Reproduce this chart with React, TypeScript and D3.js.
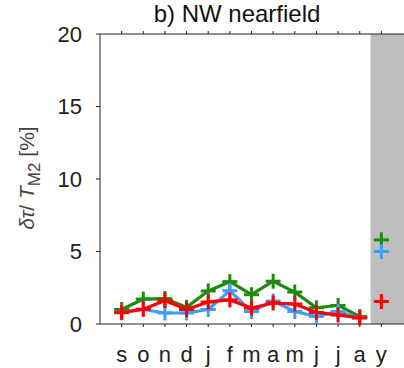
import React from "react";
import * as d3 from "d3";

const months = ["s", "o", "n", "d", "j", "f", "m", "a", "m", "j", "j", "a"];
const greenVals = [1.0, 1.72, 1.75, 1.15, 2.28, 2.92, 2.02, 2.95, 2.2, 1.12, 1.28, 0.52];
const blueVals = [0.82, 1.0, 0.76, 0.76, 1.0, 2.3, 0.86, 1.58, 0.86, 0.52, 0.86, 0.42];
const redVals = [0.78, 1.02, 1.62, 1.0, 1.52, 1.66, 1.1, 1.45, 1.38, 0.8, 0.62, 0.42];
const annualLabel = "y";
const annualGreen = 5.8;
const annualBlue = 5.0;
const annualRed = 1.55;
const yTicks = [0, 5, 10, 15, 20];

const W = 404, H = 368;
const left = 100, right = 403, top = 34, bottom = 324;

export default function App() {
  const x = d3.scaleLinear().domain([-1, 13]).range([left, right]);
  const y = d3.scaleLinear().domain([0, 20]).range([bottom, top]);
  const line = d3.line<number>().x((_, i) => x(i)).y((v) => y(v));
  const labels = [...months, annualLabel];
  const series = [
    { vals: greenVals, annual: annualGreen, color: "#1f8a0f" },
    { vals: blueVals, annual: annualBlue, color: "#3d9cff" },
    { vals: redVals, annual: annualRed, color: "#ff0000" },
  ];
  const ms = 7.5;
  const plus = (cx: number, cy: number, color: string, key: string) => (
    <g key={key} stroke={color} strokeWidth={3}>
      <line x1={cx - ms} x2={cx + ms} y1={cy} y2={cy} />
      <line x1={cx} x2={cx} y1={cy - ms} y2={cy + ms} />
    </g>
  );
  return (
    <svg width={W} height={H} style={{ display: "block", position: "absolute", left: 0, top: 0 }}
      fontFamily="Liberation Sans, Arial, sans-serif">
      <rect x={0} y={0} width={W} height={H} fill="#fff" />
      <rect x={x(11.5)} y={top} width={W - x(11.5)} height={bottom - top} fill="#bebebe" />
      <line x1={left} x2={left} y1={top} y2={bottom} stroke="#222" strokeWidth={1} />
      <line x1={left} x2={W} y1={bottom} y2={bottom} stroke="#222" strokeWidth={1} />
      <line x1={left} x2={W} y1={top} y2={top} stroke="#222" strokeWidth={1} />
      {yTicks.map((t) => (
        <g key={"y" + t}>
          <line x1={left - 4} x2={left} y1={y(t)} y2={y(t)} stroke="#222" />
          <text x={82} y={y(t)} dy="0.36em" textAnchor="end" fontSize={22} fill="#222">{t}</text>
        </g>
      ))}
      {labels.map((l, i) => (
        <g key={"x" + i}>
          <line x1={x(i)} x2={x(i)} y1={bottom} y2={bottom + 3} stroke="#222" />
          <line x1={x(i)} x2={x(i)} y1={top} y2={top - 3} stroke="#222" />
          <text x={x(i)} y={362} textAnchor="middle" fontSize={22} fill="#222">{l}</text>
        </g>
      ))}
      {series.map((s, si) => (
        <g key={"s" + si}>
          <path d={line(s.vals) || ""} fill="none" stroke={s.color} strokeWidth={3.2} strokeLinejoin="round" />
          {s.vals.map((v, i) => plus(x(i), y(v), s.color, "p" + si + "-" + i))}
          {plus(x(12), y(s.annual), s.color, "a" + si)}
        </g>
      ))}
      <text x={237} y={22} textAnchor="middle" fontSize={24} fill="#111">b) NW nearfield</text>
      <text transform={`translate(34,178) rotate(-90)`} textAnchor="middle" fontSize={21} fill="#444">
        <tspan fontStyle="italic">δτ</tspan>
        <tspan>/ </tspan>
        <tspan fontStyle="italic">T</tspan>
        <tspan fontSize={17} dy={6}>M2</tspan>
        <tspan dy={-6}> [%]</tspan>
      </text>
    </svg>
  );
}
